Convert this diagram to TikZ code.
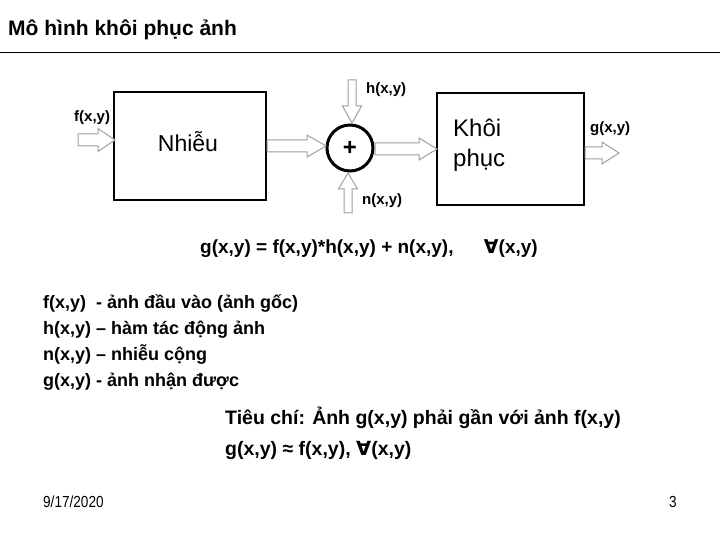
\documentclass[tikz,border=0pt]{standalone}
\usepackage{fontspec}
\setmainfont{Liberation Sans}
\newfontfamily\djv{DejaVu Sans}
\usetikzlibrary{calc}
\tikzset{
  blockbox/.style={draw, line width=2pt, fill=none},
  lbl/.style={font=\bfseries\fontsize{15}{17}\selectfont, inner sep=0pt},
  txt/.style={font=\bfseries\fontsize{18}{21}\selectfont, inner sep=0pt, anchor=base west},
  crit/.style={font=\bfseries\fontsize{19.5}{23}\selectfont, inner sep=0pt, anchor=base west},
  kptext/.style={font=\fontsize{24}{30}\selectfont, inner sep=0pt, anchor=base west},
  blockarrow/.style={draw=gray!75, line width=1pt, fill=white, line join=miter},
}
% hollow block arrow from #1 to #2: shaft half width #3, head half width #4, head length #5 (pt)
\newcommand\harrow[5]{%
  \filldraw[blockarrow] let \p1=(#1), \p2=(#2), \n1={veclen(\x2-\x1,\y2-\y1)},
      \n2={atan2(\y2-\y1,\x2-\x1)}, \n3={\n1-#5pt} in
    ($(\p1)+(\n2+90:#3pt)$) -- ($(\p1)+(\n2:\n3)+(\n2+90:#3pt)$)
    -- ($(\p1)+(\n2:\n3)+(\n2+90:#4pt)$) -- (\p2)
    -- ($(\p1)+(\n2:\n3)+(\n2-90:#4pt)$) -- ($(\p1)+(\n2:\n3)+(\n2-90:#3pt)$)
    -- ($(\p1)+(\n2-90:#3pt)$) -- cycle;}
\begin{document}
\begin{tikzpicture}[x=1pt,y=-1pt]
\useasboundingbox (0,0) rectangle (720,540);
% title
\node[font=\bfseries\fontsize{21}{24}\selectfont, inner sep=0pt, anchor=base west] (title) at (8,36) {Mô hình khôi phục ảnh};
\draw[line width=1pt] (0,53) -- (720,53);
% blocks
\draw[blockbox] (114,92) rectangle (266,200);
\node[font=\fontsize{23}{26}\selectfont] (nhieu) at (188,142) {Nhiễu};
\draw[blockbox] (437,93) rectangle (584,205);
\node[kptext] (kp1) at (453,137) {Khôi};
\node[kptext] (kp2) at (453,167) {phục};
% summing junction
\node[circle, draw, line width=3pt, minimum size=46pt, inner sep=0pt, font=\bfseries\fontsize{24}{24}\selectfont] (sum) at (350,148) {+};
% connector end points
\coordinate (fin) at (78,140);
\coordinate (nL) at (115,140);
\coordinate (nR) at (267,146);
\coordinate (sW) at (326,146);
\coordinate (htop) at (352,80);
\coordinate (hbot) at (352,123);
\coordinate (nbot) at (348,213);
\coordinate (ntop) at (348,173);
\coordinate (sE) at (375,149);
\coordinate (kL) at (437,149);
\coordinate (kR) at (585,153);
\coordinate (gout) at (619,153);
% arrows
\harrow{fin}{nL}{6}{11.5}{17}
\harrow{nR}{sW}{6}{11}{19}
\harrow{htop}{hbot}{4}{9.5}{17}
\harrow{nbot}{ntop}{4}{9.5}{16}
\harrow{sE}{kL}{6}{11}{18}
\harrow{kR}{gout}{6}{11}{17}
% labels
\node[lbl, anchor=west] (lf) at (74,118) {f(x,y)};
\node[lbl, anchor=west] (lh) at (366,90) {h(x,y)};
\node[lbl, anchor=west] (ln) at (362,201) {n(x,y)};
\node[lbl, anchor=west] (lg) at (590,129) {g(x,y)};
% equation
\node[txt, font=\bfseries\fontsize{19}{22}\selectfont] (eq) at (200,253) {g(x,y) = f(x,y)*h(x,y) + n(x,y),\hspace{1.6em}{\djv\bfseries ∀}(x,y)};
% list
\node[txt] (d1) at (43,308) {f(x,y)\ \ - ảnh đầu vào (ảnh gốc)};
\node[txt] (d2) at (43,334) {h(x,y) – hàm tác động ảnh};
\node[txt] (d3) at (43,360) {n(x,y) – nhiễu cộng};
\node[txt] (d4) at (43,386) {g(x,y) - ảnh nhận được};
% criteria
\node[crit] (c1) at (225,424) {Tiêu chí: Ảnh g(x,y) phải gần với ảnh f(x,y)};
\node[crit] (c2) at (225,455) {g(x,y) ≈ f(x,y), {\djv\bfseries ∀}(x,y)};
% footer
\node[font=\fontsize{16}{18}\selectfont, inner sep=0pt, anchor=base west, xscale=0.85] (date) at (43,507) {9/17/2020};
\node[font=\fontsize{16}{18}\selectfont, inner sep=0pt, anchor=base west, xscale=0.85] (page) at (669,507) {3};
\end{tikzpicture}
\end{document}
